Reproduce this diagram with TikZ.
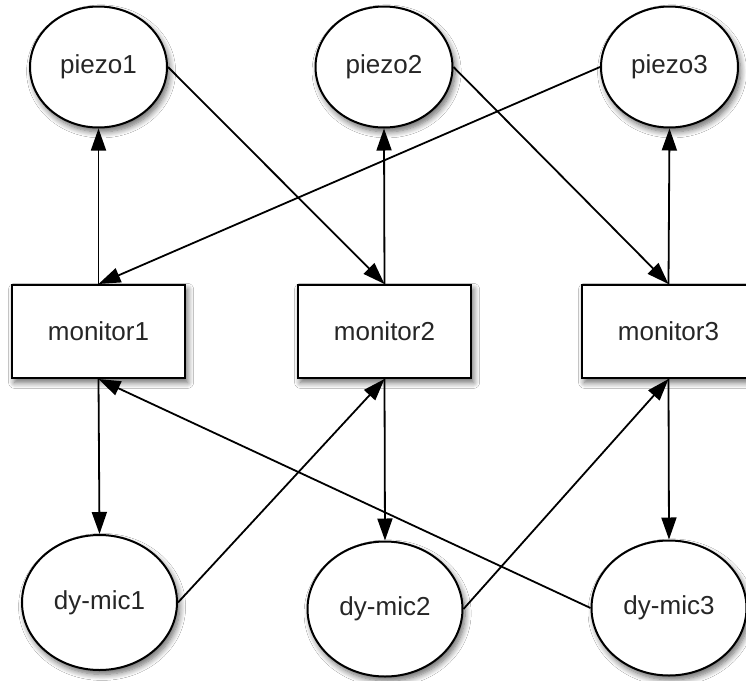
\documentclass[tikz,border=0pt]{standalone}
\usepackage{fontspec}
\setmainfont{Liberation Sans}
\usetikzlibrary{arrows.meta,shapes.geometric,shadows.blur}

\tikzset{
  shade/.style={blur shadow={shadow xshift=1.3pt, shadow yshift=-2.2pt,
      shadow blur radius=3pt, shadow blur steps=8, shadow opacity=60}},
  sensor/.style={ellipse, draw, line width=1pt, fill=white, inner sep=0pt,
      minimum width=68.5pt, minimum height=60.5pt, shade,
      font=\fontsize{13pt}{15pt}\selectfont, text=black!85},
  mic/.style={sensor, minimum width=77.5pt, minimum height=67.5pt},
  monbox/.style={rectangle, draw, line width=1pt, fill=white, inner sep=0pt,
      minimum width=86.5pt, minimum height=46.5pt, shade,
      font=\fontsize{13pt}{15pt}\selectfont, text=black!85},
  link/.style={line width=0.9pt, -{Triangle[length=11pt,width=7.5pt]}}
}

\begin{document}
\begin{tikzpicture}[x=0.5pt,y=-0.5pt]
  \fill[white] (0,0) rectangle (746,681);
  \useasboundingbox (0,0) rectangle (746,681);

  % piezo sensors
  \node[sensor] (p1) at (98.5,67)  {piezo1};
  \node[sensor] (p2) at (384,67)   {piezo2};
  \node[sensor] (p3) at (669.5,67) {piezo3};

  % monitors
  \node[monbox] (m1) at (98.5,331.5) {monitor1};
  \node[monbox] (m2) at (384.5,331.5) {monitor2};
  \node[monbox] (m3) at (668.5,331.5) {monitor3};

  % dynamic microphones
  \node[mic] (d1) at (99.5,602.5) {dy-mic1};
  \node[mic] (d2) at (385,609)    {dy-mic2};
  \node[mic] (d3) at (669,608)    {dy-mic3};

  % monitors drive the piezos above them
  \draw[link] (m1.north) -- (p1.south);
  \draw[link] (m2.north) -- (p2.south);
  \draw[link] (m3.north) -- (p3.south);

  % piezos feed monitors across
  \draw[link] (p1.east) -- (m2.north);
  \draw[link] (p2.east) -- (m3.north);
  \draw[link] (p3.west) -- (m1.north);

  % monitors drive the microphones below them
  \draw[link] (m1.south) -- (d1.north);
  \draw[link] (m2.south) -- (d2.north);
  \draw[link] (m3.south) -- (d3.north);

  % microphones feed monitors across
  \draw[link] (d1.east) -- (m2.south);
  \draw[link] (d2.east) -- (m3.south);
  \draw[link] (d3.west) -- (m1.south);
\end{tikzpicture}
\end{document}
